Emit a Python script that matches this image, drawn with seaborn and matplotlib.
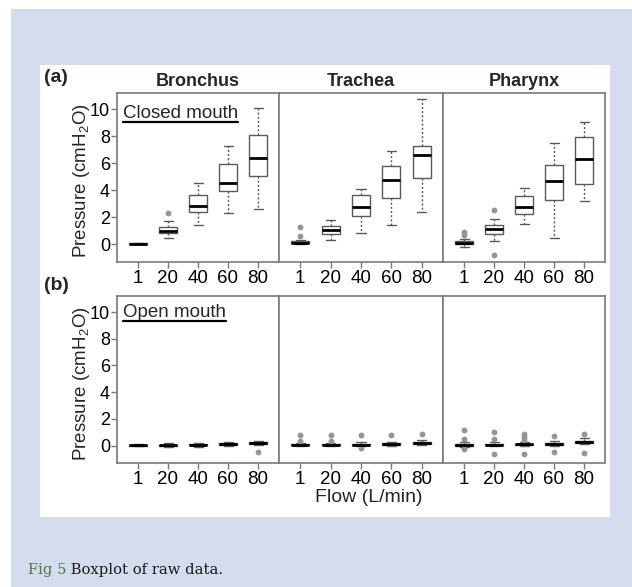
import numpy as np
import pandas as pd
import seaborn as sns
import matplotlib.pyplot as plt
from matplotlib.patches import Rectangle
from matplotlib.lines import Line2D

# ---- values -----------------------------------------------------------------
flows = ["1", "20", "40", "60", "80"]
regions = ["Bronchus", "Trachea", "Pharynx"]

# closed mouth: whisker low, Q1, median, Q3, whisker high (cmH2O) per flow
closed_lo = {"Bronchus": [0.00, 0.50, 1.41, 2.32, 2.59],
             "Trachea": [0.02, 0.35, 0.87, 1.43, 2.42],
             "Pharynx": [-0.22, 0.22, 1.48, 0.44, 3.24]}
closed_q1 = {"Bronchus": [0.02, 0.84, 2.40, 3.93, 5.06],
             "Trachea": [0.08, 0.79, 2.07, 3.43, 4.89],
             "Pharynx": [0.03, 0.79, 2.22, 3.31, 4.44]}
closed_med = {"Bronchus": [0.05, 1.01, 2.81, 4.54, 6.37],
              "Trachea": [0.14, 1.09, 2.74, 4.77, 6.59],
              "Pharynx": [0.12, 1.13, 2.77, 4.69, 6.32]}
closed_q3 = {"Bronchus": [0.08, 1.28, 3.63, 5.93, 8.12],
             "Trachea": [0.22, 1.36, 3.63, 5.78, 7.28],
             "Pharynx": [0.22, 1.41, 3.56, 5.90, 7.98]}
closed_hi = {"Bronchus": [0.12, 1.70, 4.57, 7.31, 10.10],
             "Trachea": [0.35, 1.78, 4.07, 6.91, 10.74],
             "Pharynx": [0.40, 1.85, 4.20, 7.53, 9.09]}
closed_out = {"Bronchus": [[], [2.35], [], [], []],
              "Trachea": [[0.60, 1.28], [], [], [], []],
              "Pharynx": [[0.72, 0.89], [-0.76, 2.52], [], [], []]}

# open mouth
open_lo = {"Bronchus": [-0.05, -0.10, -0.08, -0.05, 0.05],
           "Trachea": [-0.05, -0.05, -0.05, 0.00, 0.02],
           "Pharynx": [-0.10, -0.05, -0.05, 0.00, 0.10]}
open_q1 = {"Bronchus": [0.00, 0.00, 0.02, 0.05, 0.15],
           "Trachea": [0.02, 0.02, 0.03, 0.06, 0.12],
           "Pharynx": [0.00, 0.02, 0.03, 0.08, 0.20]}
open_med = {"Bronchus": [0.03, 0.05, 0.07, 0.12, 0.20],
            "Trachea": [0.07, 0.07, 0.08, 0.12, 0.20],
            "Pharynx": [0.07, 0.08, 0.10, 0.14, 0.27]}
open_q3 = {"Bronchus": [0.06, 0.08, 0.10, 0.18, 0.25],
           "Trachea": [0.12, 0.12, 0.13, 0.17, 0.27],
           "Pharynx": [0.12, 0.13, 0.15, 0.20, 0.35]}
open_hi = {"Bronchus": [0.10, 0.20, 0.20, 0.30, 0.35],
           "Trachea": [0.20, 0.20, 0.25, 0.30, 0.45],
           "Pharynx": [0.25, 0.28, 0.30, 0.35, 0.55]}
open_out = {"Bronchus": [[], [], [], [], [-0.47]],
            "Trachea": [[0.35, 0.76], [0.33, 0.76], [-0.15, 0.76], [0.81], [0.87]],
            "Pharynx": [[-0.22, 0.52, 1.19], [-0.64, 0.47, 1.04],
                        [-0.64, 0.45, 0.64, 0.87], [-0.50, 0.72], [-0.57, 0.87]]}


def box_points(lo, q1, med, q3, hi, out):
    # sample that reproduces the read box statistics
    return list(out) + [lo] + [q1] * 10 + [med] * 10 + [q3] * 10 + [hi]


rows = []
for mouth, st in [("closed", (closed_lo, closed_q1, closed_med, closed_q3, closed_hi, closed_out)),
                  ("open", (open_lo, open_q1, open_med, open_q3, open_hi, open_out))]:
    for reg in regions:
        for i, fl in enumerate(flows):
            for v in box_points(*(s[reg][i] for s in st)):
                rows.append((mouth, reg, fl, v))
df = pd.DataFrame(rows, columns=["mouth", "region", "flow", "pressure"])

# ---- figure -------------------------------------------------------------------
sns.set_theme(style="white")
plt.rcParams["font.family"] = ["Liberation Sans", "DejaVu Sans"]

W, H = 632, 587
fig = plt.figure(figsize=(W / 100, H / 100), dpi=100)

bg = fig.add_axes([0, 0, 1, 1], zorder=-1)
bg.set_xlim(0, W)
bg.set_ylim(H, 0)
bg.axis("off")
bg.add_patch(Rectangle((11, 9), W - 11, H - 9, color="#d4dcee", lw=0))
bg.add_patch(Rectangle((40, 65), 570, 452, color="white", lw=0))

col_x = [117, 279, 443, 605]
row_y = [(93, 262), (296, 463)]
grey = "#7a7a7a"

mouth_texts = []
for r, (mouth, label) in enumerate([("closed", "Closed mouth"), ("open", "Open mouth")]):
    y0, y1 = row_y[r]
    for c, reg in enumerate(regions):
        x0, x1 = col_x[c], col_x[c + 1]
        ax = fig.add_axes([x0 / W, 1 - y1 / H, (x1 - x0) / W, (y1 - y0) / H])
        sub = df[(df["mouth"] == mouth) & (df["region"] == reg)]
        sns.boxplot(data=sub, x="flow", y="pressure", order=flows, ax=ax,
                    width=0.6, color="white", linecolor="#5a5a5a", linewidth=1.0,
                    whiskerprops=dict(linestyle=(0, (1.5, 1.5))),
                    medianprops=dict(color="black", linewidth=2.0),
                    flierprops=dict(marker="o", markersize=3.2,
                                    markerfacecolor="#959595",
                                    markeredgecolor="#959595"))
        ax.set_xlim(-0.7, 4.7)
        ax.set_ylim(-1.3, 11.2)
        ax.set_xlabel("")
        ax.set_ylabel("")
        for s in ax.spines.values():
            s.set_visible(True)
            s.set_color(grey)
            s.set_linewidth(1.2)
        ax.tick_params(axis="x", bottom=True, length=4, width=1, color=grey,
                       labelsize=13.5, pad=1.5, labelcolor="black")
        if c == 0:
            ax.set_yticks([0, 2, 4, 6, 8, 10])
            ax.tick_params(axis="y", left=True, length=4, width=1, color=grey,
                           labelsize=13, pad=1, labelcolor="black")
            t = ax.text(0.037, 0.85 if r == 0 else 0.872, label, transform=ax.transAxes,
                        fontsize=13.5, va="baseline", ha="left")
            mouth_texts.append((ax, t))
        else:
            ax.tick_params(axis="y", left=False, labelleft=False)
        if r == 0:
            ax.set_title(reg, fontsize=13, fontweight="bold", pad=5)

# y labels, panel tags, x label
for yc in [181, 384]:
    fig.text(81 / W, 1 - yc / H, "Pressure (cmH$_\\mathregular{2}$O)", rotation=90,
             ha="center", va="center", fontsize=13.5)
fig.text(56 / W, 1 - 78 / H, "(a)", ha="center", va="center", fontsize=14, fontweight="bold")
fig.text(56 / W, 1 - 286 / H, "(b)", ha="center", va="center", fontsize=14, fontweight="bold")
fig.text(369 / W, 1 - 497 / H, "Flow (L/min)", ha="center", va="center", fontsize=14)

# caption
cap = fig.text(28 / W, 1 - 574 / H, "Fig 5", color="#4a7d3a", fontsize=10.6,
               family="DejaVu Serif", va="baseline", ha="left")
bg.annotate(" Boxplot of raw data.", xy=(1, 0), xycoords=cap, va="bottom", ha="left",
            fontsize=10.6, family="DejaVu Serif", color="#1a1a1a", annotation_clip=False)

# underline the mouth labels
fig.canvas.draw()
rend = fig.canvas.get_renderer()
inv = fig.transFigure.inverted()
for ax, t in mouth_texts:
    bb = t.get_window_extent(rend)
    yb = ax.transAxes.transform(t.get_position())[1] - 3.5
    (fx0, fy), (fx1, _) = inv.transform([(bb.x0, yb), (bb.x1, yb)])
    fig.add_artist(Line2D([fx0, fx1], [fy, fy], color="black", lw=1.6,
                          transform=fig.transFigure))

fig.savefig("out.png", dpi=100)
